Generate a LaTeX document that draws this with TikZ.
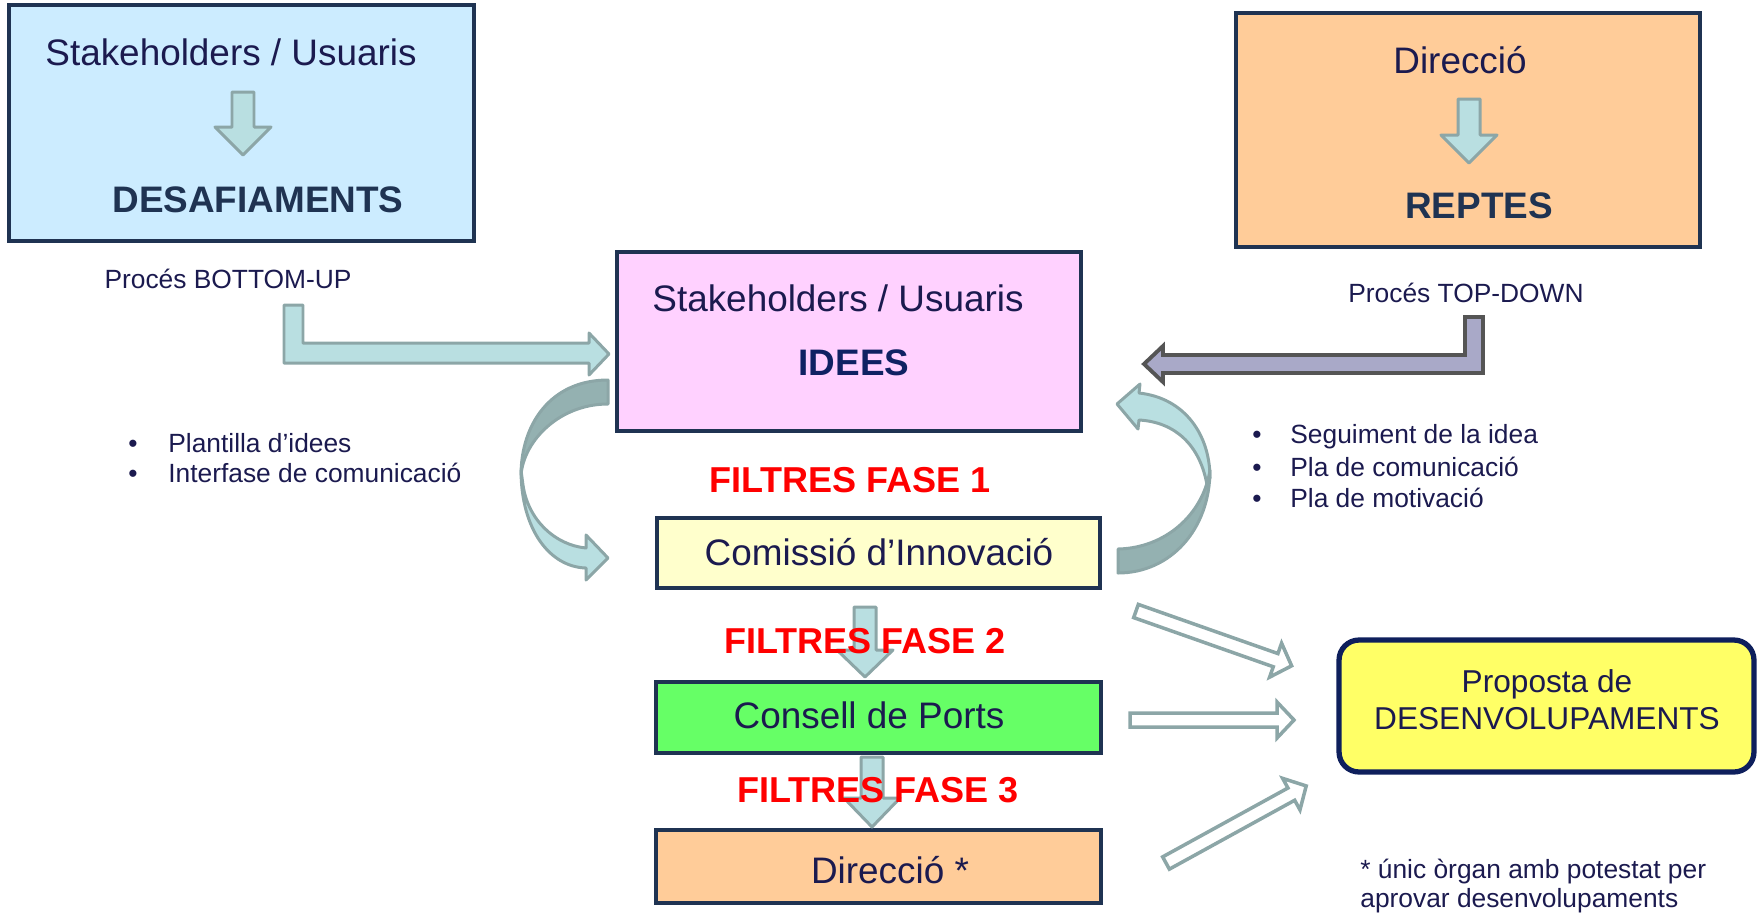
\documentclass[tikz,border=0pt]{standalone}
\usepackage{fontspec}
\setmainfont{Liberation Sans}
\definecolor{skyfill}{HTML}{CCECFF}
\definecolor{peachfill}{HTML}{FFCC99}
\definecolor{pinkfill}{HTML}{FFD1FF}
\definecolor{creamfill}{HTML}{FFFFCC}
\definecolor{greenfill}{HTML}{66FF66}
\definecolor{yellowfill}{HTML}{FFFF66}
\definecolor{boxline}{HTML}{1F3352}
\definecolor{propline}{HTML}{0E1F5C}
\definecolor{navytxt}{HTML}{1B1A4F}
\definecolor{slatetxt}{HTML}{1F3352}
\definecolor{ideestxt}{HTML}{0F2163}
\definecolor{tealfill}{HTML}{B9DFE1}
\definecolor{tealline}{HTML}{8CA6A7}
\definecolor{tealdark}{HTML}{94B1B1}
\definecolor{purplefill}{HTML}{A9A9C8}
\definecolor{purpleline}{HTML}{555555}
\definecolor{filtrered}{HTML}{FF0000}
\tikzset{
  box/.style={draw=boxline, line width=2.6pt, inner sep=0pt},
  tealarrow/.style={fill=tealfill, draw=tealline, line width=1.7pt, line join=round},
  darkarrow/.style={fill=tealdark, draw=tealline, line width=1.7pt, line join=round},
  hollowarrow/.style={fill=white, draw=tealline, line width=2pt},
  purplearrow/.style={fill=purplefill, draw=purpleline, line width=2.2pt},
  big/.style={font=\fontsize{21}{25}\selectfont, text=navytxt, inner sep=0pt, anchor=base},
  bigbold/.style={big, font=\fontsize{21}{25}\selectfont\bfseries, text=slatetxt},
  filtre/.style={font=\fontsize{20.5}{24}\selectfont\bfseries, text=filtrered, inner sep=0pt, anchor=base},
  small/.style={font=\fontsize{15}{18}\selectfont, text=navytxt, inner sep=0pt, anchor=base},
  proptxt/.style={font=\fontsize{18}{22}\selectfont, text=navytxt, inner sep=0pt, anchor=base}
}
\begin{document}
\begin{tikzpicture}[x=0.02cm, y=-0.02cm]
\useasboundingbox (0,0) rectangle (1758,914);
% boxes
\node[box, fill=skyfill, minimum width=9.3cm, minimum height=4.72cm] (usuaris) at (241.5,123) {};
\node[box, fill=peachfill, minimum width=9.28cm, minimum height=4.68cm] (direccio) at (1468,130) {};
\node[box, fill=pinkfill, minimum width=9.28cm, minimum height=3.58cm] (idees) at (849,341.5) {};
\node[box, fill=creamfill, minimum width=8.86cm, minimum height=1.4cm] (comissio) at (878.5,553) {};
\node[box, fill=greenfill, minimum width=8.9cm, minimum height=1.42cm] (consell) at (878.5,717.5) {};
\node[box, fill=peachfill, minimum width=8.9cm, minimum height=1.46cm] (direccio2) at (878.5,866.5) {};
\node[box, draw=propline, line width=3pt, fill=yellowfill, rounded corners=0.4cm, minimum width=8.3cm, minimum height=2.64cm] (proposta) at (1546.5,706) {};
% small down arrows
\foreach \cx/\ya/\yb/\yc in {243/92/127/155, 1469/99/135/163, 865/607/650/677, 872/757/798/827}
  \draw[tealarrow] (\cx-11,\ya) -- (\cx+11,\ya) -- (\cx+11,\yb) -- (\cx+28,\yb) -- (\cx,\yc) -- (\cx-28,\yb) -- (\cx-11,\yb) -- cycle;
% bottom-up and top-down
\draw[tealarrow] (284,305) -- (303,305) -- (303,343) -- (589,343) -- (589,333) -- (609,354) -- (589,375) -- (589,363) -- (284,363) -- cycle;
\draw[purplearrow] (1483,317) -- (1465,317) -- (1465,355) -- (1163,355) -- (1163,346) -- (1144,364) -- (1163,382) -- (1163,373) -- (1483,373) -- cycle;
% curved arrows
\draw[tealarrow] (521,470) .. controls (521,530) and (550,567) .. (586,568) -- (586,580) -- (608,558) -- (586,535) -- (586,548) .. controls (555,545) and (528,520) .. (523,485) -- cycle;
\draw[darkarrow] (608,380) .. controls (550,380) and (521,425) .. (521,475) .. controls (524,440) and (560,404) .. (608,404) -- cycle;
\draw[tealarrow] (1210,478) .. controls (1210,435) and (1185,398) .. (1139,393) -- (1140,384) -- (1117,404) -- (1138,429) -- (1139,420) .. controls (1175,422) and (1200,445) .. (1207,485) -- cycle;
\draw[darkarrow] (1210,470) .. controls (1210,530) and (1170,573) .. (1118,573) -- (1118,549) .. controls (1165,548) and (1203,515) .. (1210,470) -- cycle;
% arrows to proposta
\foreach \tx/\ty/\ang/\len in {1136/611/-19.4/165, 1130/720/0/164, 1166/863/28.8/160}
  \draw[hollowarrow, shift={(\tx,\ty)}, rotate=\ang] (0,-7) -- (\len-17,-7) -- (\len-17,-18) -- (\len,0) -- (\len-17,18) -- (\len-17,7) -- (0,7) -- cycle;
% texts
\node[big] (usuarisA) at (231,65) {Stakeholders / Usuaris};
\node[bigbold] (desaf) at (258,212) {DESAFIAMENTS};
\node[big] (direccioA) at (1460,73) {Direcció};
\node[bigbold] (reptes) at (1479,218) {REPTES};
\node[big] (ideesA) at (838,311) {Stakeholders / Usuaris};
\node[bigbold, text=ideestxt] (ideesB) at (854,375) {IDEES};
\node[big] (comissioA) at (879,565) {Comissió d’Innovació};
\node[big] (conselldA) at (869,728) {Consell de Ports};
\node[big] (direccioB) at (890,883) {Direcció *};
\node[filtre] (fase1) at (850,492) {FILTRES FASE 1};
\node[filtre] (fase2) at (865,653) {FILTRES FASE 2};
\node[filtre] (fase3) at (878,802) {FILTRES FASE 3};
\node[small] (bottomup) at (228,288) {Procés BOTTOM-UP};
\node[small] (topdown) at (1466,302) {Procés TOP-DOWN};
\node[proptxt] (propA) at (1547,692) {Proposta de};
\node[proptxt] (propB) at (1547,729) {DESENVOLUPAMENTS};
\foreach \y/\t [count=\i] in {452/Plantilla d’idees, 482/Interfase de comunicació} {
  \node[small] (lbul\i) at (133,\y) {•};
  \node[small, anchor=base west] (ltxt\i) at (168,\y) {\t};
}
\foreach \y/\t [count=\i] in {443/Seguiment de la idea, 476/Pla de comunicació, 507/Pla de motivació} {
  \node[small] (rbul\i) at (1257,\y) {•};
  \node[small, anchor=base west] (rtxt\i) at (1290,\y) {\t};
}
\node[small, anchor=base west] (nota1) at (1360,878) {* únic òrgan amb potestat per};
\node[small, anchor=base west] (nota2) at (1360,907) {aprovar desenvolupaments};
\end{tikzpicture}
\end{document}
